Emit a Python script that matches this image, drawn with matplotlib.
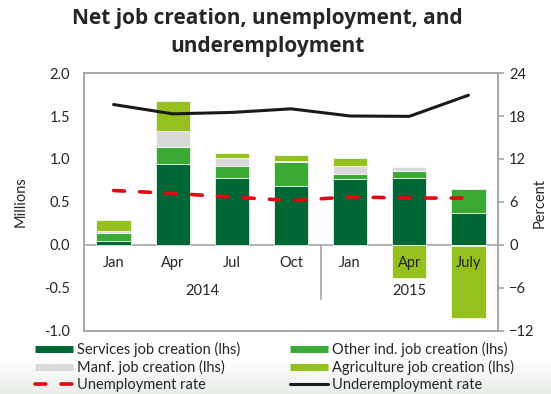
import numpy as np
import matplotlib.pyplot as plt
from matplotlib.lines import Line2D
from matplotlib.colors import LinearSegmentedColormap

plt.rcParams['font.family'] = ['Lato', 'DejaVu Sans']

# Quarterly data
months = ['Jan', 'Apr', 'Jul', 'Oct', 'Jan', 'Apr', 'July']
years = ['2014', '2015']
year_centres = [1.5, 5.0]

services = [0.045, 0.94, 0.775, 0.69, 0.765, 0.775, 0.375]
other_ind = [0.10, 0.20, 0.145, 0.27, 0.06, 0.08, 0.275]
manf = [0.02, 0.18, 0.095, 0.02, 0.095, 0.055, -0.015]
agriculture = [0.125, 0.35, 0.055, 0.07, 0.09, -0.385, -0.84]

unemployment = [7.6, 7.2, 6.7, 6.2, 6.7, 6.55, 6.55]
underemployment = [19.6, 18.3, 18.5, 19.0, 18.0, 17.95, 20.9]

c_serv = '#006633'
c_other = '#3aaa35'
c_manf = '#d9d9d9'
c_agri = '#95c11f'
c_red = '#e30613'
c_black = '#1a1a1a'
c_grid = '#a6a6a6'
c_text = '#262626'

fig = plt.figure(figsize=(5.51, 3.94), dpi=100)

# light tint along the bottom edge
bg = fig.add_axes([0, 0, 1, 1], zorder=-10)
grad = np.linspace(0, 1, 100).reshape(-1, 1)
bg.imshow(grad, aspect='auto', extent=[0, 1, 0, 0.09], origin='upper',
          cmap=LinearSegmentedColormap.from_list('g', ['#ffffff', '#e9eee9']))
bg.set_xlim(0, 1)
bg.set_ylim(0, 1)
bg.axis('off')

ax = fig.add_axes([0.1525, 0.16, 0.7513, 0.6547])
ax.patch.set_alpha(0)
x = np.arange(len(months))
w = 0.58

pos_base = np.zeros(len(x))
neg_base = np.zeros(len(x))
for vals, col in [(services, c_serv), (other_ind, c_other),
                  (manf, c_manf), (agriculture, c_agri)]:
    vals = np.array(vals)
    base = np.where(vals >= 0, pos_base, neg_base)
    ax.bar(x, vals, w, bottom=base, color=col, edgecolor='white',
           linewidth=0.5, zorder=2)
    pos_base += np.clip(vals, 0, None)
    neg_base += np.clip(vals, None, 0)

ax.set_xlim(-0.5, len(x) - 0.5)
ax.set_ylim(-1.0, 2.0)
ax.set_yticks(np.arange(-1.0, 2.01, 0.5))
ax.set_yticklabels([f'{v:.1f}' for v in np.arange(-1.0, 2.01, 0.5)])
ax.set_xticks([])
ax.tick_params(axis='y', length=0, labelsize=10.5, colors=c_text, pad=10)
for s in ax.spines.values():
    s.set_color(c_grid)
    s.set_linewidth(1.2)
ax.axhline(0, color=c_grid, lw=1.2, zorder=1)
ax.set_ylabel('Millions', fontsize=10.5, color=c_text, labelpad=12)

# category labels inside the plot area
for xi, m in zip(x, months):
    ax.text(xi, -0.21, m, ha='center', va='center', fontsize=10.5,
            color=c_text, zorder=6)
for xc, yr in zip(year_centres, years):
    ax.text(xc, -0.535, yr, ha='center', va='center', fontsize=10.5,
            color=c_text, zorder=6)
ax.plot([3.5, 3.5], [0, -0.63], color=c_grid, lw=1.2, zorder=1)

ax2 = ax.twinx()
ax2.set_ylim(-12, 24)
ax2.set_yticks(np.arange(-12, 25, 6))
ax2.tick_params(axis='y', length=4, width=1.2, labelsize=10.5,
                labelcolor=c_text, color=c_grid, pad=4)
for s in ax2.spines.values():
    s.set_color(c_grid)
    s.set_linewidth(1.2)

ax2.plot(x, unemployment, color=c_red, lw=2.6, dashes=(3.0, 4.2),
         dash_capstyle='round', zorder=4)
ax2.plot(x, underemployment, color=c_black, lw=2.2,
         solid_capstyle='round', zorder=4)

fig.text(540 / 551, 1 - 203 / 394, 'Percent', rotation=90, ha='center',
         va='center', fontsize=10.5, color=c_text)

fig.text(0.485, 0.953, 'Net job creation, unemployment, and',
         ha='center', va='center', fontsize=15, fontweight='bold',
         family='Open Sans', color=c_text)
fig.text(0.485, 0.882, 'underemployment',
         ha='center', va='center', fontsize=15, fontweight='bold',
         family='Open Sans', color=c_text)

handles = [
    Line2D([], [], color=c_serv, lw=5, solid_capstyle='butt'),
    Line2D([], [], color=c_manf, lw=5, solid_capstyle='butt'),
    Line2D([], [], color=c_red, lw=2.6, dashes=(3.0, 4.2),
           dash_capstyle='round'),
    Line2D([], [], color=c_other, lw=5, solid_capstyle='butt'),
    Line2D([], [], color=c_agri, lw=5, solid_capstyle='butt'),
    Line2D([], [], color=c_black, lw=2.2, solid_capstyle='round'),
]
labels = ['Services job creation (lhs)', 'Manf. job creation (lhs)',
          'Unemployment rate', 'Other ind. job creation (lhs)',
          'Agriculture job creation (lhs)', 'Underemployment rate']
fig.legend(handles, labels, ncol=2, loc='upper left',
           bbox_to_anchor=(35 / 551, 1 - 342 / 394), frameon=False,
           fontsize=10.5, handlelength=2.6, handletextpad=0.3,
           labelspacing=0.2, columnspacing=3.4, borderpad=0,
           borderaxespad=0, labelcolor=c_text)

fig.savefig('out.png', dpi=100)
